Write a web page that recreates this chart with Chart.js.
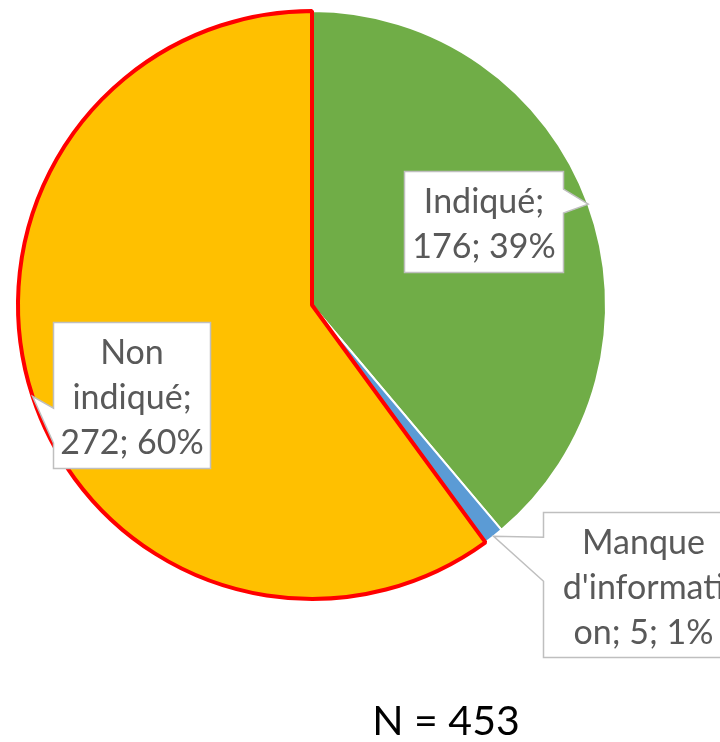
<!DOCTYPE html>
<html>
<head>
<meta charset="utf-8">
<script src="https://cdn.jsdelivr.net/npm/chart.js@4/dist/chart.umd.min.js"></script>
<style>
  html, body { margin: 0; padding: 0; background: #fff; }
  #wrap { width: 720px; height: 742px; }
</style>
</head>
<body>
<div id="wrap"><canvas id="pieChart" width="720" height="742"></canvas></div>
<script>
// data
const categories = ['Indiqué', 'Manque d\'information', 'Non indiqué'];
const counts = [176, 5, 272];
const percents = [39, 1, 60];
const labelLines = [
    ['Indiqué;', '176; 39%'],
    ['Manque', 'd\'informati', 'on; 5; 1%'],
    ['Non', 'indiqué;', '272; 60%']
];
const totalLabel = 'N = 453';

const sliceColors = ['#70AD47', '#5B9BD5', '#FFC000'];
const sliceBorders = ['#ffffff', '#ffffff', '#FF0000'];
const sliceBorderWidths = [2, 2, 4];

// callout boxes, placed relative to the tip on each slice edge
const callouts = [
    { dx: -184, dy: -33, w: 159, h: 101, side: 'right', b0: -15, b1: 9 },
    { dx: 49, dy: -24, w: 200, h: 145, side: 'left', b0: 1, b1: 45 },
    { dx: 20, dy: -74, w: 157, h: 146, side: 'left', b0: 12, b1: 47 }
];

const FONT = 'Lato, "Open Sans", sans-serif';

const calloutPlugin = {
    id: 'calloutLabels',
    afterDatasetsDraw(chart) {
        const ctx = chart.ctx;
        const arcs = chart.getDatasetMeta(0).data;
        ctx.save();
        arcs.forEach((arc, i) => {
            const c = callouts[i];
            const mid = (arc.startAngle + arc.endAngle) / 2;
            const tx = arc.x + Math.cos(mid) * arc.outerRadius;
            const ty = arc.y + Math.sin(mid) * arc.outerRadius;
            const x = Math.round(tx + c.dx) + 0.5;
            const y = Math.round(ty + c.dy) + 0.5;
            const w = c.w, h = c.h;
            ctx.beginPath();
            if (c.side === 'right') {
                ctx.moveTo(x, y);
                ctx.lineTo(x + w, y);
                ctx.lineTo(x + w, ty + c.b0);
                ctx.lineTo(tx, ty);
                ctx.lineTo(x + w, ty + c.b1);
                ctx.lineTo(x + w, y + h);
                ctx.lineTo(x, y + h);
                ctx.closePath();
            } else {
                ctx.moveTo(x, y);
                ctx.lineTo(x + w, y);
                ctx.lineTo(x + w, y + h);
                ctx.lineTo(x, y + h);
                ctx.lineTo(x, ty + c.b1);
                ctx.lineTo(tx, ty);
                ctx.lineTo(x, ty + c.b0);
                ctx.closePath();
            }
            ctx.fillStyle = '#ffffff';
            ctx.fill();
            ctx.lineWidth = 1.5;
            ctx.strokeStyle = '#BFBFBF';
            ctx.stroke();

            const lines = labelLines[i];
            const lh = 45;
            ctx.fillStyle = '#595959';
            ctx.font = '34px ' + FONT;
            ctx.textAlign = 'center';
            ctx.textBaseline = 'middle';
            const cy = y + h / 2 + 3 - (lines.length - 1) * lh / 2;
            lines.forEach((t, k) => ctx.fillText(t, x + w / 2, cy + k * lh));
        });

        // total under the pie
        ctx.fillStyle = '#000000';
        ctx.font = '41px ' + FONT;
        ctx.textAlign = 'center';
        ctx.textBaseline = 'middle';
        ctx.fillText(totalLabel, 446, 722);
        ctx.restore();
    }
};

new Chart(document.getElementById('pieChart').getContext('2d'), {
    type: 'pie',
    data: {
        labels: categories,
        datasets: [{
            data: counts,
            backgroundColor: sliceColors,
            borderColor: sliceBorders,
            borderWidth: sliceBorderWidths
        }]
    },
    options: {
        responsive: false,
        animation: false,
        layout: { padding: { left: 16, top: 9, right: 112, bottom: 141 } },
        plugins: {
            legend: { display: false },
            tooltip: { enabled: false }
        }
    },
    plugins: [calloutPlugin]
});
</script>
</body>
</html>
